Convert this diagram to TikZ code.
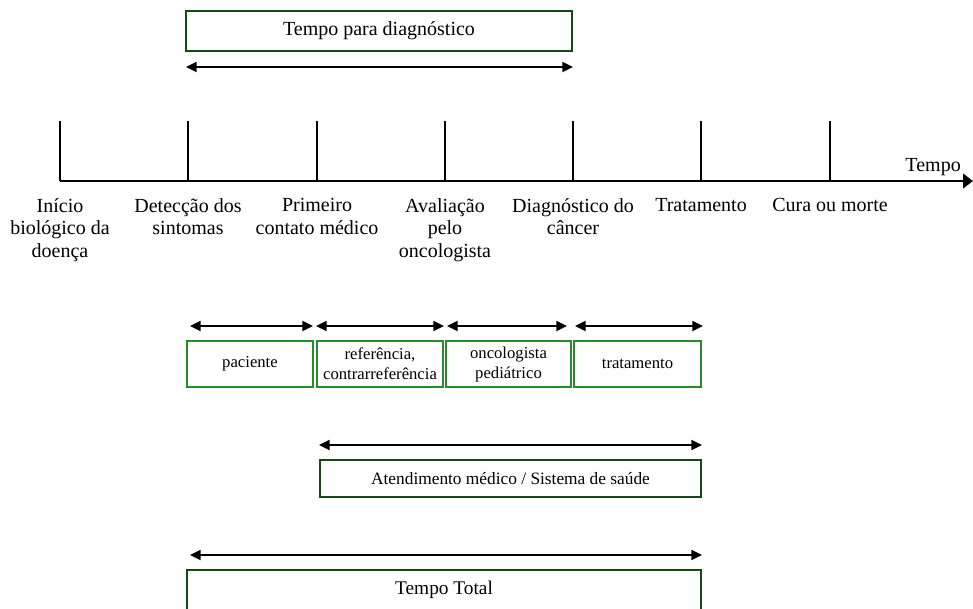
\documentclass[tikz,border=0pt]{standalone}
\usepackage{fontspec}
\setmainfont{Liberation Serif}
\usetikzlibrary{arrows.meta}

\definecolor{darkbox}{RGB}{22,72,22}
\definecolor{phasegreen}{RGB}{40,140,40}

\begin{document}
\begin{tikzpicture}[x=0.75pt,y=-0.75pt,>/.tip={Triangle[length=8pt,width=7.5pt]},
	bigbox/.style={draw=darkbox,line width=1.9pt,inner sep=0pt},
	phasebox/.style={draw=phasegreen,line width=1.2pt,minimum height=34.5pt,inner sep=0pt,align=center,font=\fontsize{12.5}{15}\selectfont},
	event/.style={anchor=north,inner sep=0pt,align=center,font=\fontsize{15}{16.9}\selectfont},
	span/.style={<->,line width=1.5pt},
	tick/.style={line width=1.5pt}]
	\useasboundingbox (0,0) rectangle (973,608);
	\clip (0,0) rectangle (973,608);

	\draw (379,31) node (diag) [bigbox,minimum width=289.5pt,minimum height=30pt,font=\fontsize{15}{17}\selectfont] {Tempo para diagnóstico};
	\coordinate (diagL) at (186,67);
	\coordinate (diagR) at (573,67);
	\draw[span] (diagL) -- (diagR);

	\coordinate (axisL) at (60,181);
	\coordinate (axisR) at (973,181);
	\draw[line width=1.5pt,-{Triangle[length=7.5pt,width=11pt]}] (axisL) -- (axisR);
	\draw (961,176) node (tempo) [anchor=south east,inner sep=0pt,font=\fontsize{15}{17}\selectfont] {Tempo};

	\draw[tick] (60,121) -- (60,181);
	\draw[tick] (188,121) -- (188,181);
	\draw[tick] (317,121) -- (317,181);
	\draw[tick] (445,121) -- (445,181);
	\draw[tick] (573,121) -- (573,181);
	\draw[tick] (701,121) -- (701,181);
	\draw[tick] (830,121) -- (830,181);

	\draw (60,198) node (inicio) [event] {Início\\biológico da\\doença};
	\draw (188,198) node (deteccao) [event] {Detecção dos\\sintomas};
	\draw (317,198) node (contato) [event] {Primeiro\\contato médico};
	\draw (445,198) node (avaliacao) [event] {Avaliação\\pelo\\oncologista};
	\draw (573,198) node (diagnostico) [event] {Diagnóstico do\\câncer};
	\draw (701,198) node (tratamento) [event] {Tratamento};
	\draw (830,198) node (cura) [event] {Cura ou morte};

	\draw (250,364) node (paciente) [phasebox,minimum width=94.5pt] {paciente};
	\draw (380,364) node (referencia) [phasebox,minimum width=94.5pt] {referência,\\contrarreferência};
	\draw (508.5,364) node (oncologista) [phasebox,minimum width=93.75pt] {oncologista\\pediátrico};
	\draw (637.5,364) node (trat) [phasebox,minimum width=95.25pt] {tratamento};

	\coordinate (pacL) at (190,326);
	\coordinate (pacR) at (313,326);
	\coordinate (refL) at (316,326);
	\coordinate (refR) at (444,326);
	\coordinate (oncL) at (447,326);
	\coordinate (oncR) at (567,326);
	\coordinate (tratL) at (575,326);
	\coordinate (tratR) at (703,326);
	\draw[span] (pacL) -- (pacR);
	\draw[span] (refL) -- (refR);
	\draw[span] (oncL) -- (oncR);
	\draw[span] (tratL) -- (tratR);

	\coordinate (atendL) at (319,445);
	\coordinate (atendR) at (702,445);
	\draw[span] (atendL) -- (atendR);
	\draw (510.5,478.5) node (atend) [bigbox,minimum width=285.75pt,minimum height=27.75pt,font=\fontsize{13}{15}\selectfont] {Atendimento médico / Sistema de saúde};

	\coordinate (totalL) at (190,555);
	\coordinate (totalR) at (702,555);
	\draw[span] (totalL) -- (totalR);
	\draw (444,590) node (total) [bigbox,minimum width=385.5pt,minimum height=30pt,font=\fontsize{14.5}{17}\selectfont] {Tempo Total};
\end{tikzpicture}
\end{document}
